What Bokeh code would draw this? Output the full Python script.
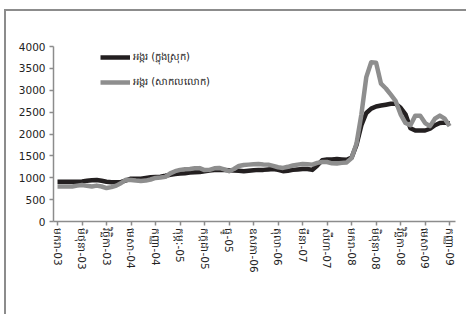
from bokeh.plotting import figure
from bokeh.models import Range1d, FixedTicker, Legend, LegendItem, ColumnDataSource
from bokeh.embed import file_html
from bokeh.resources import INLINE

# Monthly index: 0 = Jan-2003 ... 80 = Sep-2009
domestic = [910, 910, 910, 910, 910, 915, 930, 945, 950, 930,
            910, 895, 900, 905, 940, 980, 980, 980, 995, 1010,
            1020, 1025, 1045, 1070, 1085, 1095, 1105, 1120, 1125, 1130,
            1150, 1165, 1175, 1180, 1175, 1170, 1165, 1160, 1150, 1160,
            1170, 1180, 1180, 1190, 1200, 1180, 1150, 1160, 1180, 1190,
            1200, 1200, 1180, 1280, 1400, 1420, 1420, 1430, 1420, 1410,
            1460, 1750, 2200, 2480, 2580, 2630, 2650, 2670, 2690, 2690,
            2600, 2450, 2130, 2080, 2080, 2080, 2120, 2200, 2250, 2260,
            2240]
world = [800, 800, 800, 800, 820, 835, 815, 800, 820, 800,
         765, 785, 820, 880, 955, 950, 935, 925, 935, 960,
         995, 1005, 1020, 1100, 1150, 1180, 1195, 1200, 1215, 1220,
         1175, 1180, 1215, 1225, 1190, 1150, 1200, 1270, 1290, 1300,
         1310, 1315, 1305, 1300, 1270, 1240, 1225, 1250, 1280, 1300,
         1315, 1310, 1300, 1340, 1360, 1360, 1330, 1325, 1340, 1350,
         1450, 1780, 2450, 3300, 3640, 3630, 3150, 3040, 2900, 2750,
         2450, 2250, 2200, 2420, 2420, 2250, 2180, 2350, 2420, 2350,
         2180]
months = list(range(len(domestic)))

tick_positions = [0, 5, 10, 15, 20, 25, 30, 35, 40, 45, 50, 55, 60, 65, 70, 75, 80]
tick_labels = ["មករា-03", "មិថុនា-03", "វិច្ឆិកា-03", "មេសា-04", "កញ្ញា-04",
               "កុម្ភៈ-05", "កក្កដា-05", "ធ្នូ-05", "ឧសភា-06", "តុលា-06",
               "មីនា-07", "សីហា-07", "មករា-08", "មិថុនា-08", "វិច្ឆិកា-08",
               "មេសា-09", "កញ្ញា-09"]
y_ticks = [0, 500, 1000, 1500, 2000, 2500, 3000, 3500, 4000]
series_names = ["អង្ករ (ក្នុងស្រុក)", "អង្ករ (សាកលលោក)"]

FONT = "DejaVu Sans"
AXIS_GRAY = "#8c8c8c"

p = figure(width=462, height=305, output_backend="svg", toolbar_location=None,
           x_range=Range1d(-0.82, 81.2), y_range=Range1d(0, 4000),
           min_border_left=47, min_border_right=13, min_border_top=35,
           min_border_bottom=95,
           styles={"border-left": "2px solid #8c8c8c", "border-top": "2px solid #8c8c8c",
                   "margin-left": "4px", "margin-top": "9px"})
p.outline_line_color = None
p.xgrid.visible = False
p.ygrid.visible = False
p.background_fill_color = "white"
p.border_fill_color = "white"

src = ColumnDataSource(dict(x=months, d=domestic, w=world))
r1 = p.line("x", "d", source=src, line_color="#231f20", line_width=4.5, line_join="round")
r2 = p.line("x", "w", source=src, line_color="#8e8e8e", line_width=4.5, line_join="round")

legend = Legend(items=[LegendItem(label=series_names[0], renderers=[r1]),
                       LegendItem(label=series_names[1], renderers=[r2])],
                location=(47, 131), orientation="vertical",
                glyph_width=30, glyph_height=16, label_height=16, spacing=9,
                padding=0, margin=0, label_standoff=3,
                label_text_font=FONT, label_text_font_size="10px",
                label_text_color="#222222",
                border_line_color=None, background_fill_alpha=0)
p.add_layout(legend)

xa = p.xaxis[0]
xa.ticker = FixedTicker(ticks=tick_positions)
xa.major_label_overrides = {t: l for t, l in zip(tick_positions, tick_labels)}
xa.major_label_orientation = "vertical"
xa.minor_tick_line_color = None
xa.major_tick_out = 4
xa.major_tick_in = 0
xa.axis_line_color = AXIS_GRAY
xa.axis_line_width = 1.5
xa.major_tick_line_color = AXIS_GRAY
xa.major_tick_line_width = 1.5
xa.major_label_standoff = 3
xa.major_label_text_font = FONT
xa.major_label_text_font_size = "10.5px"
xa.major_label_text_color = "#222222"

ya = p.yaxis[0]
ya.ticker = FixedTicker(ticks=y_ticks)
ya.minor_tick_line_color = None
ya.major_tick_out = 4
ya.major_tick_in = 0
ya.axis_line_color = AXIS_GRAY
ya.axis_line_width = 1.5
ya.major_tick_line_color = AXIS_GRAY
ya.major_tick_line_width = 1.5
ya.major_label_standoff = 4
ya.major_label_text_font = FONT
ya.major_label_text_font_size = "10.5px"
ya.major_label_text_color = "#222222"

open("out.html", "w").write(file_html(p, INLINE))
